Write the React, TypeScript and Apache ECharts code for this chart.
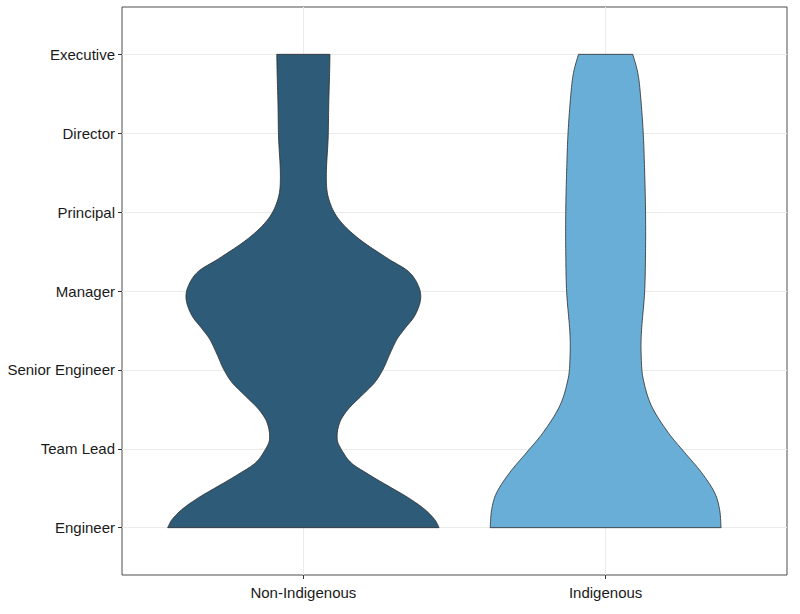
import React, { useEffect, useRef } from "react";
import * as echarts from "echarts";

// Job levels, bottom to top (y = 1..7)
const levels = [
  "Engineer",
  "Team Lead",
  "Senior Engineer",
  "Manager",
  "Principal",
  "Director",
  "Executive",
];

const groups = ["Non-Indigenous", "Indigenous"];
const groupColors = ["#2d5b78", "#69aed6"];

// Violin outlines: level position and half-width (in x-axis units)
const nonIndigenousY = [
  1.0, 1.1, 1.23, 1.38, 1.53, 1.68, 1.82, 1.99, 2.12, 2.33, 2.5, 2.67, 2.84,
  3.01, 3.2, 3.39, 3.52, 3.69, 3.9, 4.07, 4.25, 4.41, 4.67, 4.92, 5.18, 5.45,
  5.94, 6.37, 6.79, 7.0,
];
const nonIndigenousWidth = [
  0.449, 0.435, 0.402, 0.347, 0.28, 0.214, 0.159, 0.126, 0.112, 0.12, 0.148,
  0.192, 0.236, 0.264, 0.286, 0.31, 0.335, 0.369, 0.388, 0.38, 0.347, 0.28,
  0.181, 0.115, 0.083, 0.076, 0.082, 0.084, 0.087, 0.088,
];

const indigenousY = [
  1.0, 1.23, 1.44, 1.7, 1.95, 2.21, 2.55, 2.89, 3.14, 3.45, 3.99, 4.5, 5.01,
  5.52, 6.03, 6.58, 6.79, 7.0,
];
const indigenousWidth = [
  0.382, 0.377, 0.361, 0.317, 0.262, 0.206, 0.151, 0.124, 0.118, 0.118, 0.129,
  0.132, 0.132, 0.129, 0.124, 0.113, 0.105, 0.09,
];

const profiles = [
  { y: nonIndigenousY, w: nonIndigenousWidth },
  { y: indigenousY, w: indigenousWidth },
];

const FONT = "Liberation Sans, Arial, sans-serif";

// cubic Hermite through the outline points, for a smooth edge when drawing
function smoothOutline(ys: number[], ws: number[], steps = 12) {
  const n = ys.length;
  const m: number[] = [];
  for (let i = 0; i < n; i++) {
    if (i === 0) m.push((ws[1] - ws[0]) / (ys[1] - ys[0]));
    else if (i === n - 1) m.push((ws[n - 1] - ws[n - 2]) / (ys[n - 1] - ys[n - 2]));
    else m.push((ws[i + 1] - ws[i - 1]) / (ys[i + 1] - ys[i - 1]));
  }
  const out: number[][] = [];
  for (let i = 0; i < n - 1; i++) {
    const h = ys[i + 1] - ys[i];
    for (let s = 0; s < steps; s++) {
      const t = s / steps;
      const t2 = t * t;
      const t3 = t2 * t;
      const w =
        (2 * t3 - 3 * t2 + 1) * ws[i] +
        (t3 - 2 * t2 + t) * h * m[i] +
        (-2 * t3 + 3 * t2) * ws[i + 1] +
        (t3 - t2) * h * m[i + 1];
      out.push([ys[i] + t * h, w]);
    }
  }
  out.push([ys[n - 1], ws[n - 1]]);
  return out;
}

export default function App() {
  const ref = useRef<HTMLDivElement>(null);

  useEffect(() => {
    if (!ref.current) return;
    const chart = echarts.init(ref.current, undefined, { renderer: "svg" });

    const renderViolin = (params: any, api: any) => {
      const idx = params.dataIndex;
      const cx = api.value(0);
      const { y, w } = profiles[idx];
      const outline = smoothOutline(y, w);
      const right = outline.map(([yy, ww]) => api.coord([cx + ww, yy]));
      const left = outline.map(([yy, ww]) => api.coord([cx - ww, yy])).reverse();
      return {
        type: "polygon",
        shape: { points: right.concat(left) },
        style: {
          fill: groupColors[idx],
          stroke: "#2b2b2b",
          lineWidth: 0.8,
        },
      };
    };

    chart.setOption({
      animation: false,
      backgroundColor: "#ffffff",
      grid: {
        left: 122,
        right: 13,
        top: 7,
        bottom: 39,
        show: true,
        borderColor: "#4d4d4d",
        borderWidth: 1,
      },
      xAxis: {
        type: "value",
        min: 0.4,
        max: 2.6,
        axisLine: { show: false },
        axisTick: {
          show: true,
          length: 4,
          customValues: [1, 2],
          lineStyle: { color: "#333" },
        },
        axisLabel: {
          customValues: [1, 2],
          formatter: (v: number) => groups[Math.round(v) - 1] ?? "",
          color: "#1a1a1a",
          fontFamily: FONT,
          fontSize: 15,
          margin: 10,
        },
        splitLine: { show: true, lineStyle: { color: "#ebebeb", width: 1 } },
      },
      yAxis: {
        type: "value",
        min: 0.4,
        max: 7.6,
        axisLine: { show: false },
        axisTick: {
          show: true,
          length: 4,
          customValues: [1, 2, 3, 4, 5, 6, 7],
          lineStyle: { color: "#333" },
        },
        axisLabel: {
          customValues: [1, 2, 3, 4, 5, 6, 7],
          formatter: (v: number) => levels[Math.round(v) - 1] ?? "",
          color: "#1a1a1a",
          fontFamily: FONT,
          fontSize: 15,
          margin: 7,
        },
        splitLine: { show: true, lineStyle: { color: "#ebebeb", width: 1 } },
      },
      series: [
        {
          type: "custom",
          renderItem: renderViolin,
          data: [[1], [2]],
          silent: true,
        },
      ],
    });

    return () => chart.dispose();
  }, []);

  return (
    <div
      ref={ref}
      style={{ position: "absolute", left: 0, top: 0, width: 800, height: 614 }}
    />
  );
}
